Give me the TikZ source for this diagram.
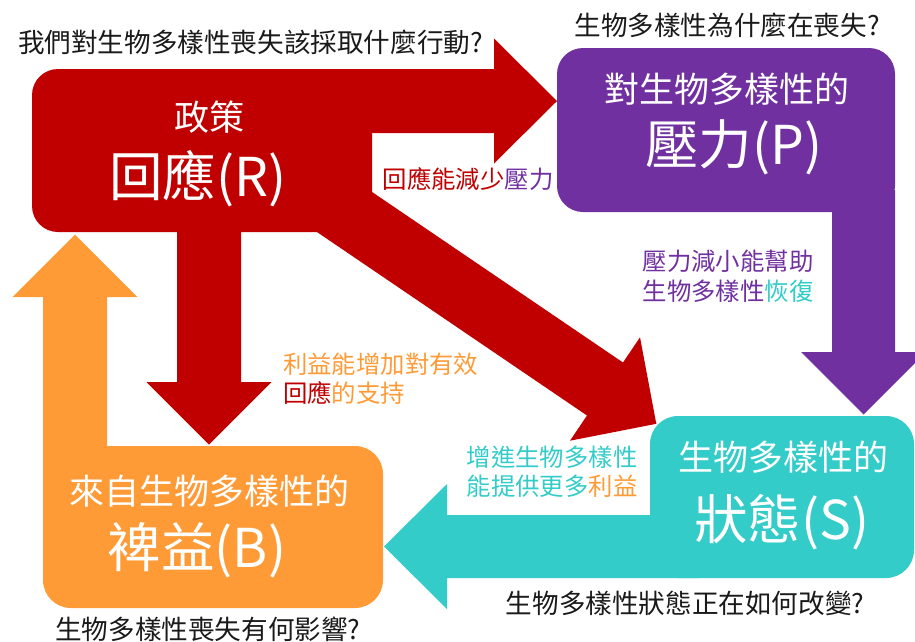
\documentclass[tikz,border=0pt]{standalone}
\usepackage{fontspec}
\setmainfont{Noto Sans CJK TC}
\definecolor{cR}{HTML}{C00000}
\definecolor{cP}{HTML}{7030A0}
\definecolor{cS}{HTML}{33CCC8}
\definecolor{cB}{HTML}{FF9B37}
\definecolor{cQ}{HTML}{1A1A1A}
\tikzset{
  box/.style={rounded corners=26pt, minimum width=#1},
  question/.style={font=\fontsize{26.6}{30}\selectfont, text=cQ},
  label/.style={font=\fontsize{24.4}{28}\selectfont},
  subtitle/.style={font=\fontsize{35}{38}\selectfont, text=white},
  title/.style={font=\fontsize{53.5}{60}\selectfont, text=white},
}
\begin{document}
\begin{tikzpicture}[x=1pt,y=-1pt, every node/.style={inner sep=0pt, outer sep=0pt}]
\useasboundingbox (0,0) rectangle (915,641);
% boxes
\node[box=340pt, minimum height=163pt, fill=cR] (R) at (202,150.5) {};
\node[box=338pt, minimum height=164pt, fill=cP] (P) at (726,130) {};
\node[box=264pt, minimum height=162pt, fill=cS, rounded corners=28pt] (S) at (782,497) {};
\node[box=340pt, minimum height=162pt, fill=cB, rounded corners=28pt] (B) at (213,527) {};
% block arrows
% R -> P
\fill[cR] (300,69) -- (494,69) -- (494,38.5) -- (557,101) -- (494,163.5) -- (494,133) -- (300,133) -- cycle;
% R -> S (diagonal)
\fill[cR] (325,160) -- (623,362.5) -- (640,337.3) -- (656.3,423.8) -- (570,440.7) -- (587,415.5) -- (289,213) -- cycle;
% R -> B
\fill[cR] (177,200) -- (177,382) -- (146.5,382) -- (209,444.5) -- (271.5,382) -- (241,382) -- (241,200) -- cycle;
% B -> R
\fill[cB] (43,490) -- (43,297) -- (12.5,297) -- (75,234.5) -- (137.5,297) -- (107,297) -- (107,490) -- cycle;
% P -> S
\fill[cP] (832,190) -- (832,352) -- (801,352) -- (863.5,414.5) -- (926,352) -- (895,352) -- (895,190) -- cycle;
% S -> B
\fill[cS] (700,515) -- (447,515) -- (447,484) -- (384,546.5) -- (447,609) -- (447,578) -- (700,578) -- cycle;
% box texts
\node[subtitle] (Rs) at (209,117) {政策};
\node[title] (Rt) at (198,179) {回應(R)};
\node[subtitle] (Ps) at (727,89) {對生物多樣性的};
\node[title] (Pt) at (734,147) {壓力(P)};
\node[subtitle] (Ss) at (783,457) {生物多樣性的};
\node[title] (St) at (782,522) {狀態(S)};
\node[subtitle] (Bs) at (209,491) {來自生物多樣性的};
\node[title] (Bt) at (197,550) {裨益(B)};
% questions
\node[question, anchor=west] (qR) at (18,42) {我們對生物多樣性喪失該採取什麼行動?};
\node[question] (qP) at (727,25) {生物多樣性為什麼在喪失?};
\node[question] (qS) at (685,603) {生物多樣性狀態正在如何改變?};
\node[question] (qB) at (208,629) {生物多樣性喪失有何影響?};
% arrow labels
\node[label] (lRP) at (468,179) {\textcolor{cR}{回應能減少}\textcolor{cP}{壓力}};
\node[label, text=cP] (lPS1) at (728,261) {壓力減小能幫助};
\node[label] (lPS2) at (728,291) {\textcolor{cP}{生物多樣性}\textcolor{cS}{恢復}};
\node[label, anchor=west, text=cB] (lBR1) at (283,364) {利益能增加對有效};
\node[label, anchor=west] (lBR2) at (283,393) {\textcolor{cR}{回應}\textcolor{cB}{的支持}};
\node[label, text=cS] (lSB1) at (552,457) {增進生物多樣性};
\node[label] (lSB2) at (552,486) {\textcolor{cS}{能提供更多}\textcolor{cB}{利益}};
\end{tikzpicture}
\end{document}
